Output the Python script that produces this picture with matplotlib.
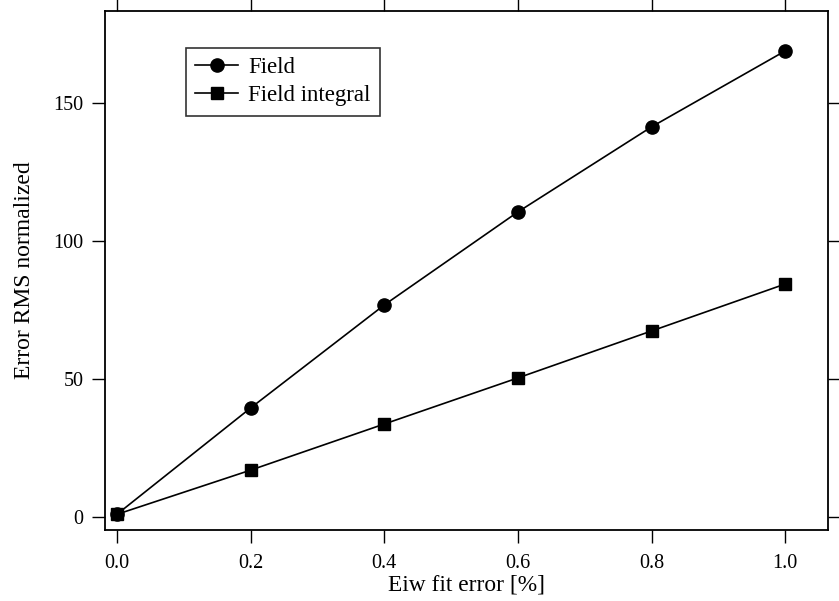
import matplotlib
matplotlib.use('Agg')
import matplotlib.pyplot as plt

# data
x_err = [0.0, 0.2, 0.4, 0.6, 0.8, 1.0]
field = [1.0, 39.5, 76.8, 110.5, 141.3, 168.8]
field_integral = [1.0, 17.0, 33.7, 50.4, 67.4, 84.4]
x_ticks = [0.0, 0.2, 0.4, 0.6, 0.8, 1.0]
y_ticks = [0, 50, 100, 150]


def main():
    plt.rcParams['font.family'] = ['Liberation Serif', 'DejaVu Serif']

    fig = plt.figure(figsize=(8.39, 6.01), dpi=100)
    # box: x 105..828 px, y 11..530 px
    ax = fig.add_axes([0.125, 0.118, 0.862, 0.864])

    ax.plot(x_err, field, color='black', lw=1.2, marker='o', ms=9.5, label='Field')
    ax.plot(x_err, field_integral, color='black', lw=1.2, marker='s', ms=9,
            label='Field integral')

    ax.set_xlim(-0.018, 1.064)
    ax.set_ylim(-4.7, 183.3)
    ax.set_xticks(x_ticks)
    ax.set_xticklabels(['%.1f' % v for v in x_ticks])
    ax.set_yticks(y_ticks)

    ax.tick_params(direction='out', length=9.5, width=1.0, labelsize=14.5,
                   top=True, right=True, pad=6)
    ax.tick_params(axis='x', pad=8)
    for s in ax.spines.values():
        s.set_linewidth(1.3)

    ax.set_xlabel('Eiw fit error [%]', fontsize=16.8, labelpad=1)
    ax.set_ylabel('Error RMS normalized', fontsize=17, labelpad=13)

    leg = ax.legend(loc='upper left', bbox_to_anchor=(0.112, 0.929), fontsize=16.5,
                    frameon=True, fancybox=False, edgecolor='black',
                    borderaxespad=0, handlelength=1.88, borderpad=0.4,
                    labelspacing=0.33, handletextpad=0.44)
    leg.get_frame().set_linewidth(1.2)

    fig.savefig('out.png', dpi=100)


if __name__ == '__main__':
    main()
